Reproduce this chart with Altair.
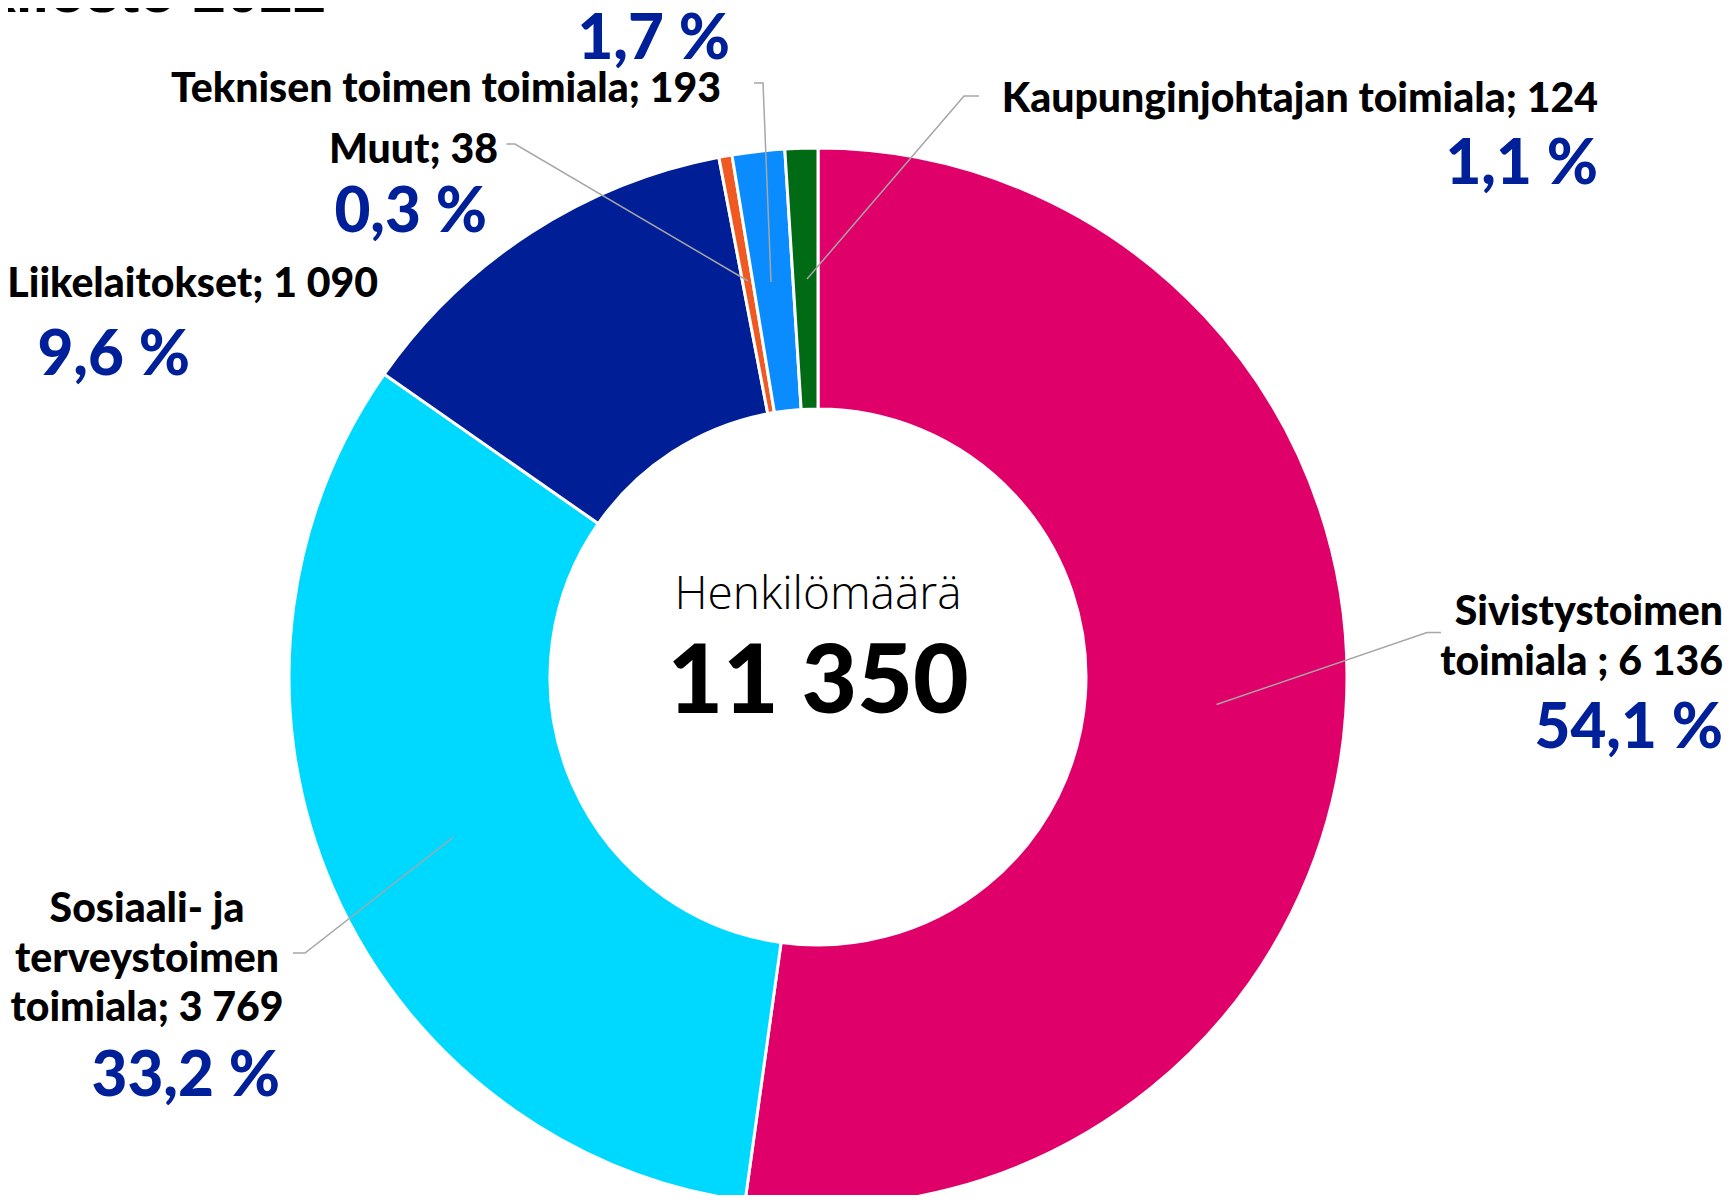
import altair as alt
import pandas as pd

# ---- data ----
categories = [
    "Sivistystoimen toimiala",
    "Sosiaali- ja terveystoimen toimiala",
    "Liikelaitokset",
    "Muut",
    "Teknisen toimen toimiala",
    "Kaupunginjohtajan toimiala",
]
# head counts printed in the labels
values = [6136, 3769, 1090, 38, 193, 124]
# slice sizes (%) as drawn in the ring
ring_share = [52.2, 32.5, 12.3, 0.4, 1.6, 1.0]
colors = ["#E0006A", "#00D9FF", "#001F96", "#F05A22", "#0A8CFF", "#006B14"]
title_text = "Henkilöstö 2022"
center_caption = "Henkilömäärä"

total = sum(values)


def fi_int(n):
    return f"{n:,}".replace(",", " ")


def fi_pct(v):
    return f"{v / total * 100:.1f}".replace(".", ",") + " %"


# ---- layout (SVG pixel space) ----
W, H = 1718, 1187
CX, CY = 810, 669
R_OUT, R_IN = 529, 268
LABEL_FONT = "Lato"
NAME_SIZE = 41
PCT_SIZE = 62
PCT_COLOR = "#00209A"

name_lines = [
    ["Sivistystoimen", "toimiala ; {v}"],
    ["Sosiaali- ja", "terveystoimen", "toimiala; {v}"],
    ["Liikelaitokset; {v}"],
    ["Muut; {v}"],
    ["Teknisen toimen toimiala; {v}"],
    ["Kaupunginjohtajan toimiala; {v}"],
]
name_align = ["right", "center", "right", "right", "right", "right"]
name_x = [1715, 139, 370, 490, 713, 1590]
name_y = [[605, 655], [902, 952, 1001], [277], [143], [82], [92]]
pct_x = [1715, 272, 182, 479, 722, 1590]
pct_y = [721, 1069, 348, 205, 32, 157]

leaders = [
    [(1433, 624.5), (1419, 624.5), (1208.5, 696.5)],
    [(285, 945), (297, 945), (445.5, 829)],
    [(498.5, 136), (507, 136), (740, 273)],
    [(746, 75), (755, 75), (763, 274)],
    [(971, 88), (956, 88), (799, 271)],
]

# ---- tables ----
df = pd.DataFrame({
    "name": categories,
    "value": values,
    "share": ring_share,
    "idx": list(range(len(values))),
})

arc = alt.Chart(df).mark_arc(
    innerRadius=R_IN, outerRadius=R_OUT, stroke="white", strokeWidth=3
).encode(
    theta=alt.Theta("share:Q", stack=True),
    color=alt.Color("name:N", scale=alt.Scale(domain=categories, range=colors), legend=None),
    order=alt.Order("idx:Q", sort="ascending"),
    x=alt.value(CX),
    y=alt.value(CY),
)

lead_rows = []
for i, pts in enumerate(leaders):
    for j, (px, py) in enumerate(pts):
        lead_rows.append({"lid": i, "k": j, "x": px, "y": py})
lead_df = pd.DataFrame(lead_rows)
lead = alt.Chart(lead_df).mark_line(color="#A6A6A6", strokeWidth=1.5).encode(
    x=alt.X("x:Q", scale=None, axis=None),
    y=alt.Y("y:Q", scale=None, axis=None),
    detail="lid:N",
    order="k:Q",
)

rows_by_align = {"right": [], "center": []}
for i, lines in enumerate(name_lines):
    for line, yy in zip(lines, name_y[i]):
        rows_by_align[name_align[i]].append(
            {"t": line.replace("{v}", fi_int(values[i])), "x": name_x[i], "y": yy}
        )

layers = [arc, lead]
for al, rows in rows_by_align.items():
    if not rows:
        continue
    layers.append(
        alt.Chart(pd.DataFrame(rows)).mark_text(
            align=al, baseline="middle", font=LABEL_FONT, fontWeight=900,
            fontSize=NAME_SIZE, color="black",
        ).encode(
            x=alt.X("x:Q", scale=None, axis=None),
            y=alt.Y("y:Q", scale=None, axis=None),
            text="t:N",
        )
    )

pct_df = pd.DataFrame({"t": [fi_pct(v) for v in values], "x": pct_x, "y": pct_y})
layers.append(
    alt.Chart(pct_df).mark_text(
        align="right", baseline="middle", font=LABEL_FONT, fontWeight=900,
        fontSize=PCT_SIZE, color=PCT_COLOR,
    ).encode(
        x=alt.X("x:Q", scale=None, axis=None),
        y=alt.Y("y:Q", scale=None, axis=None),
        text="t:N",
    )
)

center_df = pd.DataFrame({"t": [center_caption, fi_int(total)]})
layers.append(
    alt.Chart(center_df.iloc[[0]]).mark_text(
        align="center", baseline="alphabetic", font="Open Sans", fontWeight=300,
        fontSize=46, color="black",
    ).encode(x=alt.value(CX), y=alt.value(601), text="t:N")
)
layers.append(
    alt.Chart(center_df.iloc[[1]]).mark_text(
        align="center", baseline="alphabetic", font=LABEL_FONT, fontWeight=900,
        fontSize=96, color="black",
    ).encode(x=alt.value(CX), y=alt.value(705), text="t:N")
)

title_df = pd.DataFrame({"t": [title_text]})
layers.append(
    alt.Chart(title_df).mark_text(
        align="right", baseline="alphabetic", font="Liberation Sans", fontWeight="bold",
        fontSize=60, color="black",
    ).encode(x=alt.value(318), y=alt.value(4), text="t:N")
)

chart = alt.layer(*layers).properties(
    width=W, height=H, autosize=alt.AutoSizeParams(type="none"), padding=0,
    background="white",
).configure_view(stroke=None)

chart.save("out.html", embed_options={"renderer": "svg", "actions": False})
